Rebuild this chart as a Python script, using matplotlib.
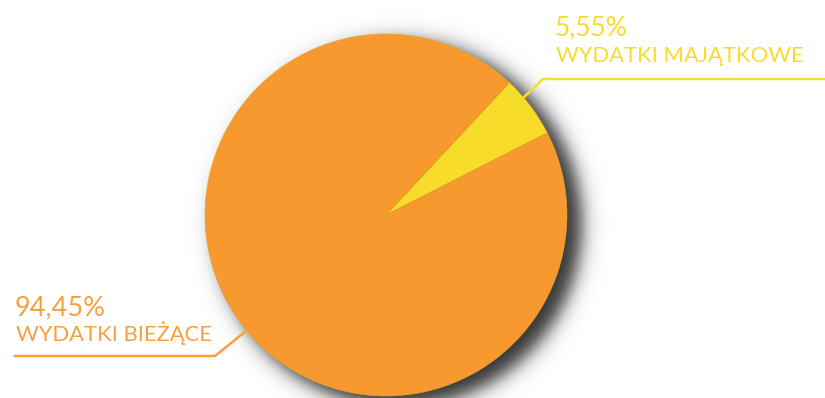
import matplotlib
matplotlib.use("Agg")
import matplotlib.pyplot as plt
import numpy as np

# data
labels = ["WYDATKI MAJĄTKOWE", "WYDATKI BIEŻĄCE"]
shares = [5.55, 94.45]
share_text = ["5,55%", "94,45%"]
colors = ["#F7DC2A", "#F7992E"]
text_colors = ["#F7DC2E", "#F7A040"]

W, H = 825, 398
fig = plt.figure(figsize=(W / 100, H / 100), dpi=100)
ax = fig.add_axes([0, 0, 1, 1])

cx, cy, r = 386, H - 215, 181

# soft drop shadow (blurred disc, offset right/down)
xx, yy = np.meshgrid(np.arange(W) + 0.5, np.arange(H) + 0.5)
d = np.hypot(xx - (cx + 13), yy - (cy - 9))
alpha = 1.0 / (1 + np.exp((d - r - 2) / 5.5))
img = np.zeros((H, W, 4))
img[..., :3] = 0.2
img[..., 3] = alpha
ax.imshow(img, extent=[0, W, 0, H], origin="lower", zorder=1, interpolation="bilinear")

ax.pie(shares, colors=colors, startangle=27, counterclock=True,
       center=(cx, cy), radius=r, frame=True,
       wedgeprops=dict(edgecolor="#E0A828", linewidth=0.4, zorder=2))
ax.set_xlim(0, W)
ax.set_ylim(0, H)
ax.set_aspect("equal")
ax.axis("off")

# leader lines
ax.plot([523, 543, W], [H - 98, H - 79, H - 79], color=text_colors[0], lw=1.8, zorder=3,
        solid_joinstyle="miter")
ax.plot([246, 215, 15], [H - 331, H - 356, H - 356], color=text_colors[1], lw=1.8, zorder=3,
        solid_joinstyle="miter")

font = "Lato"
ax.text(555, H - 35, share_text[0], color=text_colors[0], fontsize=19, family=font,
        va="baseline", ha="left")
ax.text(556, H - 62, labels[0], color=text_colors[0], fontsize=15.8, family=font,
        va="baseline", ha="left")
ax.text(15, H - 315, share_text[1], color=text_colors[1], fontsize=19.5, family=font,
        va="baseline", ha="left")
ax.text(16, H - 341, labels[1], color=text_colors[1], fontsize=15.8, family=font,
        va="baseline", ha="left")

fig.savefig("out.png", dpi=100)
